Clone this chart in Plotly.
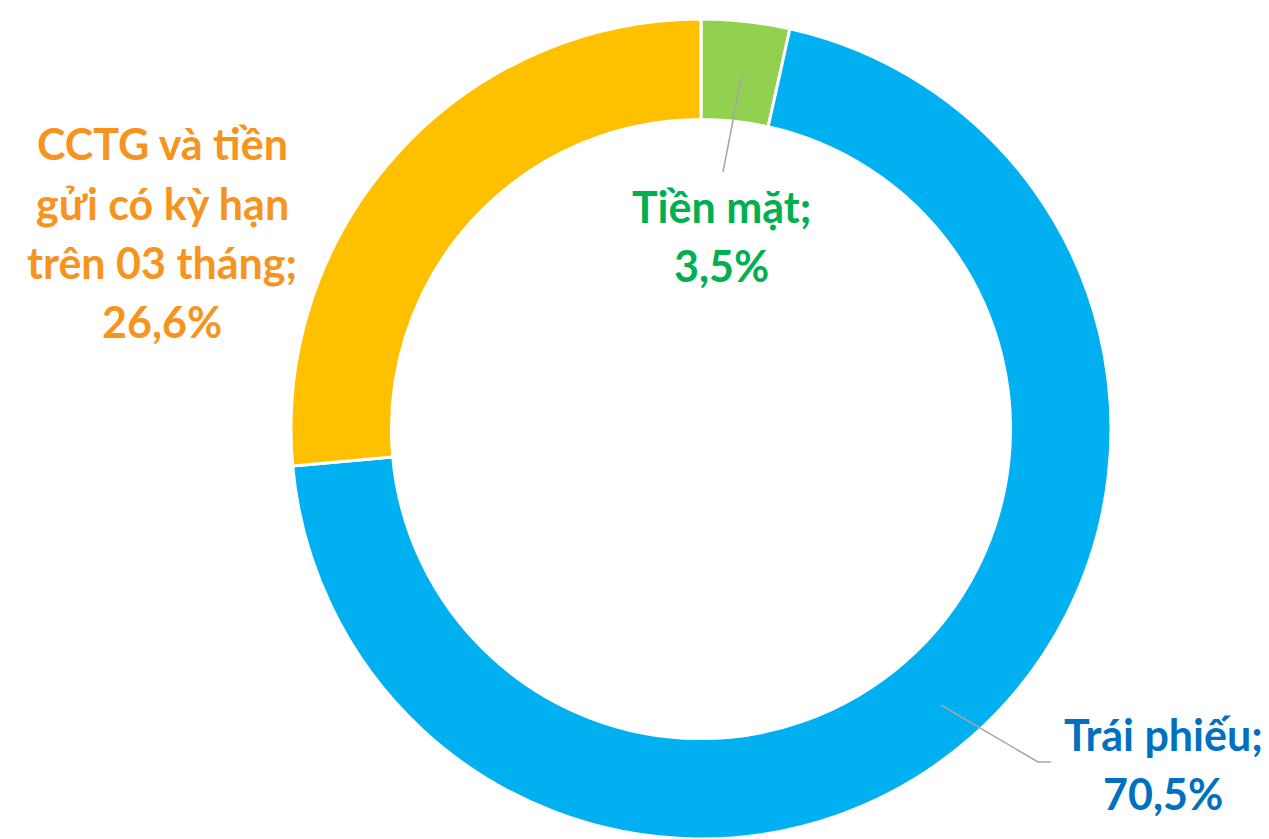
import plotly.graph_objects as go

W, H = 1269, 839

categories = ["Tiền mặt", "Trái phiếu", "CCTG và tiền gửi có kỳ hạn trên 03 tháng"]
values = [3.5, 70.5, 26.6]
slice_colors = ["#92D050", "#00B0F0", "#FFC000"]
text_colors = ["#00B050", "#0070C0", "#F7941D"]
# wrapped display lines for each label (label lines, then value line)
label_wrap = [["Tiền mặt;"], ["Trái phiếu;"], ["CCTG và tiền", "gửi có kỳ hạn", "trên 03 tháng;"]]

def px(x):
    return x / W

def py(y):
    return 1 - y / H

fig = go.Figure(go.Pie(
    labels=categories,
    values=values,
    marker=dict(colors=slice_colors, line=dict(color="white", width=3)),
    hole=0.755,
    sort=False,
    direction="clockwise",
    rotation=0,
    textinfo="none",
    hoverinfo="label+percent",
    domain=dict(x=[px(701 - 410), px(701 + 410)], y=[0, 1 - 19 / H]),
    showlegend=False,
))

# label placements (pixel centre x, first line centre y)
label_pos = [(721, 206), (1163, 734), (162, 144)]
line_gap = 59
annotations = []
for i, cat in enumerate(categories):
    lines = label_wrap[i] + [f"{values[i]:.1f}%".replace(".", ",")]
    cx, cy = label_pos[i]
    for k, ln in enumerate(lines):
        annotations.append(dict(
            x=px(cx), y=py(cy + k * line_gap), xref="paper", yref="paper",
            text=ln, showarrow=False, xanchor="center", yanchor="middle",
            font=dict(family="Lato", size=43, color=text_colors[i], weight="bold"),
        ))

shapes = [
    dict(type="line", xref="paper", yref="paper", x0=px(742), y0=py(74), x1=px(723), y1=py(172),
         line=dict(color="#A6A6A6", width=1.5)),
    dict(type="path", xref="paper", yref="paper",
         path=f"M {px(941)},{py(705)} L {px(1038)},{py(762)} L {px(1051)},{py(762)}",
         line=dict(color="#A6A6A6", width=1.5)),
]

fig.update_layout(
    width=W, height=H,
    margin=dict(l=0, r=0, t=0, b=0),
    paper_bgcolor="white",
    plot_bgcolor="white",
    annotations=annotations,
    shapes=shapes,
)

fig.write_html("out.html", config={"displayModeBar": False},
               post_script="document.body.style.margin='0';document.body.style.overflow='hidden';")
